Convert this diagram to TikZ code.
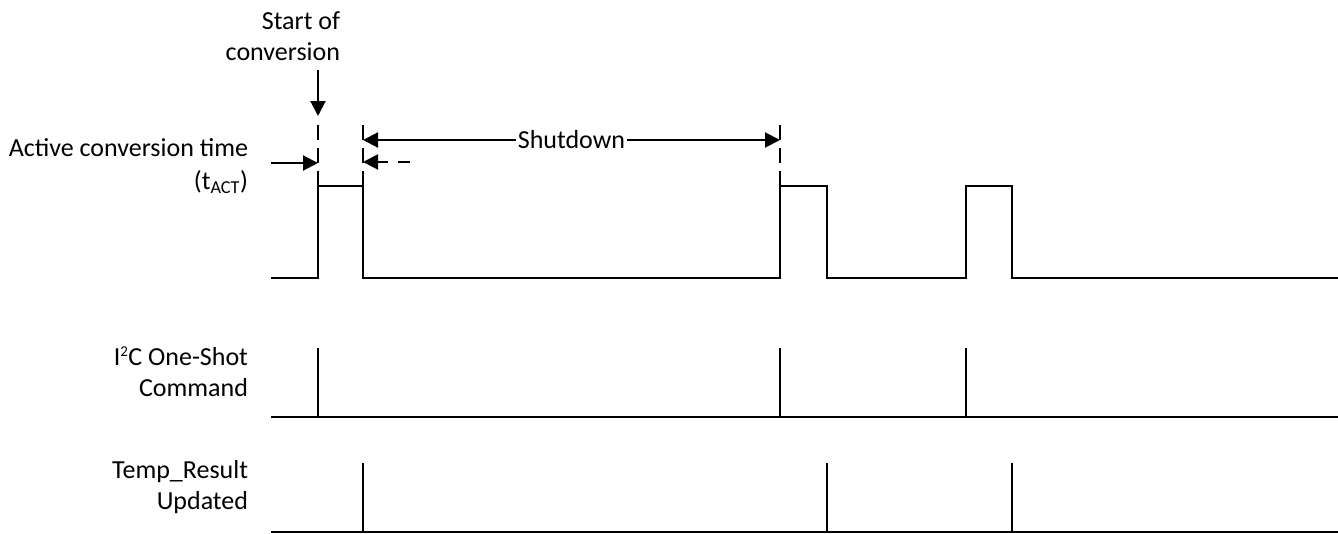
\documentclass[tikz,border=0pt]{standalone}
\usepackage{fontspec}
\setmainfont{Carlito}
\usetikzlibrary{arrows.meta}
\begin{document}
\begin{tikzpicture}[x=1pt,y=-1pt,line width=2pt,
  lbl/.style={inner sep=0pt,font=\fontsize{26}{31}\selectfont,align=right},
  tip/.style={-{Triangle[length=15pt,width=15pt]}},
  guide/.style={dash pattern=on 15pt off 8pt,line cap=butt},
  wave/.style={line join=miter}]
\useasboundingbox (0,0) rectangle (1338,533);
% labels
\node[lbl,anchor=east] (soc) at (341,36) {Start of\\conversion};
\node[lbl,anchor=east] (act) at (249,148) {Active conversion time};
\node[lbl,anchor=east] (tact) at (249,182) {(t\textsubscript{ACT})};
\node[lbl,anchor=east] (i2c) at (249,372) {I\textsuperscript{\fontsize{15}{15}\selectfont 2}C One-Shot\\Command};
\node[lbl,anchor=east] (temp) at (249,487) {Temp\_Result\\Updated};
% coordinates
\coordinate (d1t) at (318,125); \coordinate (d1b) at (318,186);
\coordinate (d2t) at (363,125); \coordinate (d2b) at (363,186);
\coordinate (d3t) at (780,125); \coordinate (d3b) at (780,186);
\coordinate (downs) at (318,70); \coordinate (downe) at (318,116);
\coordinate (rs) at (271,163); \coordinate (re) at (318,163);
\coordinate (ls) at (410,162); \coordinate (le) at (363,162);
\coordinate (sl) at (363,140); \coordinate (sr) at (780,140);
% guides
\draw[guide] (d1t) -- (d1b);
\draw[guide] (d2t) -- (d2b);
\draw[guide] (d3t) -- (d3b);
% arrows
\draw[tip] (downs) -- (downe);
\draw[tip] (rs) -- (re);
\draw[tip,dash pattern=on 12pt off 10pt] (ls) -- (le);
\draw[{Triangle[length=15pt,width=15pt]}-{Triangle[length=15pt,width=15pt]}] (sl) -- (sr)
  node[midway,fill=white,inner sep=2pt,font=\fontsize{26}{31}\selectfont] (sd) {Shutdown};
% waveform 1
\draw[wave] (271,278) -- (318,278) -- (318,186) -- (363,186) -- (363,278) -- (780,278)
  -- (780,186) -- (827,186) -- (827,278) -- (966,278) -- (966,186) -- (1012,186)
  -- (1012,278) -- (1338,278);
% waveform 2
\draw (271,417) -- (1338,417);
\foreach \x in {318,780,966} \draw (\x,417) -- (\x,348);
% waveform 3
\draw (271,532) -- (1338,532);
\foreach \x in {363,827,1012} \draw (\x,532) -- (\x,463);
\end{tikzpicture}
\end{document}
